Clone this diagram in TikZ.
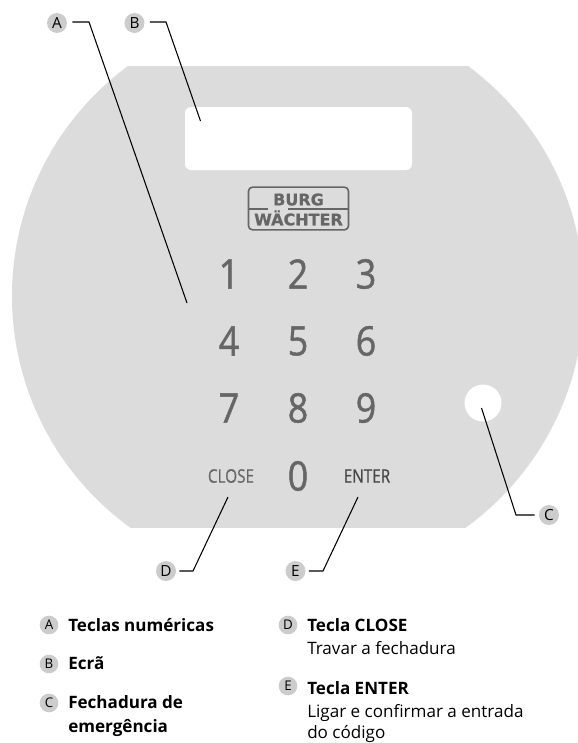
\documentclass[tikz,border=0pt]{standalone}
\usepackage{fontspec}
\setmainfont{Open Sans}
\newfontfamily\digitfont[FakeBold=1.2,FakeStretch=0.88]{Open Sans}
\newfontfamily\wordfont[FakeBold=0.6,FakeStretch=0.82]{Open Sans}
\newfontfamily\logofont[FakeBold=0.8]{DejaVu Sans}
\definecolor{panel}{HTML}{DCDCDC}
\definecolor{badge}{HTML}{CCCCCC}
\definecolor{keyc}{HTML}{666666}
\tikzset{
  badgenode/.style={circle,fill=badge,minimum size=15pt,inner sep=0pt,font=\fontsize{11.5}{11.5}\selectfont},
  smallbadge/.style={circle,fill=badge,minimum size=14pt,inner sep=0pt,font=\fontsize{10}{10}\selectfont},
  leader/.style={draw=black,line width=0.8pt},
  digitkey/.style={text=keyc,font=\digitfont\fontsize{30.5}{30.5}\selectfont,inner sep=0pt},
  wordkey/.style={text=keyc,font=\wordfont\fontsize{14}{14}\selectfont,inner sep=0pt},
  legendtext/.style={anchor=base west,inner sep=0pt,font=\fontsize{12.8}{12.8}\selectfont,text=black},
}
\begin{document}
\begin{tikzpicture}[x=0.75pt,y=-0.75pt]
\useasboundingbox (0,0) rectangle (578,743);
\begin{scope}
\clip (0,66) rectangle (578,527);
\fill[panel] (298,296) circle[radius=286];
\end{scope}
\fill[white,rounded corners=4.5pt] (185,107) rectangle (412,170);
\fill[white] (483,403) circle[radius=18.5];
% logo
\node[draw=keyc,line width=1.2pt,rounded corners=3pt,minimum width=75pt,minimum height=32pt,inner sep=0pt] (logo) at (298.5,208.5) {};
\draw[keyc,line width=1.2pt] (248,209) -- (268,209) (288,209) -- (349,209);
\node[text=keyc,font=\logofont\bfseries\fontsize{12}{12}\selectfont,inner sep=0pt] (burg) at (298.5,199.5) {BURG};
\node[text=keyc,font=\logofont\bfseries\fontsize{12}{12}\selectfont,inner sep=0pt] (waechter) at (298.5,218) {WÄCHTER};
% keys
\node[digitkey] (k1) at (229,274) {1};
\node[digitkey] (k2) at (298,274) {2};
\node[digitkey] (k3) at (366,274) {3};
\node[digitkey] (k4) at (229,341) {4};
\node[digitkey] (k5) at (298,341) {5};
\node[digitkey] (k6) at (366,341) {6};
\node[digitkey] (k7) at (229,408) {7};
\node[digitkey] (k8) at (298,408) {8};
\node[digitkey] (k9) at (366,408) {9};
\node[digitkey] (k0) at (298,476) {0};
\node[wordkey] (close) at (231,476) {CLOSE};
\node[wordkey,text=black!72] (enter) at (367,476) {ENTER};
% badges and leaders
\node[badgenode] (A) at (57,23) {A};
\node[badgenode] (B) at (134.5,23) {B};
\node[badgenode] (C) at (549,515) {C};
\node[badgenode] (D) at (166,571) {D};
\node[badgenode] (E) at (295.5,571) {E};
\coordinate (aEnd) at (187,303);
\coordinate (bEnd) at (200.5,121);
\coordinate (cEnd) at (481.5,408);
\coordinate (dEnd) at (228,497);
\coordinate (eEnd) at (358,497);
\draw[leader] (A.east) ++(5,-1) -- (89,22) -- (aEnd);
\draw[leader] (B.east) ++(5,-1) -- (166,22) -- (bEnd);
\draw[leader] (C.west) ++(-4,0) -- (516,515) -- (cEnd);
\draw[leader] (D.east) ++(3,0) -- (193,571) -- (dEnd);
\draw[leader] (E.east) ++(3,0) -- (323,571) -- (eEnd);
% legend
\node[smallbadge] (lA) at (49,625) {A};
\node[smallbadge] (lB) at (49,664) {B};
\node[smallbadge] (lC) at (49,703) {C};
\node[smallbadge] (lD) at (288,625) {D};
\node[smallbadge] (lE) at (288,686) {E};
\node[legendtext] (tA) at (68,631) {\textbf{Teclas numéricas}};
\node[legendtext] (tB) at (68,669) {\textbf{Ecrã}};
\node[legendtext] (tC) at (68,708) {\textbf{Fechadura de}};
\node[legendtext] (tC2) at (68,732) {\textbf{emergência}};
\node[legendtext] (tD) at (307,631) {\textbf{Tecla CLOSE}};
\node[legendtext] (tD2) at (307,654) {Travar a fechadura};
\node[legendtext] (tE) at (307,694) {\textbf{Tecla ENTER}};
\node[legendtext] (tE2) at (307,717) {Ligar e confirmar a entrada};
\node[legendtext] (tE3) at (307,738.5) {do código};
\end{tikzpicture}
\end{document}
